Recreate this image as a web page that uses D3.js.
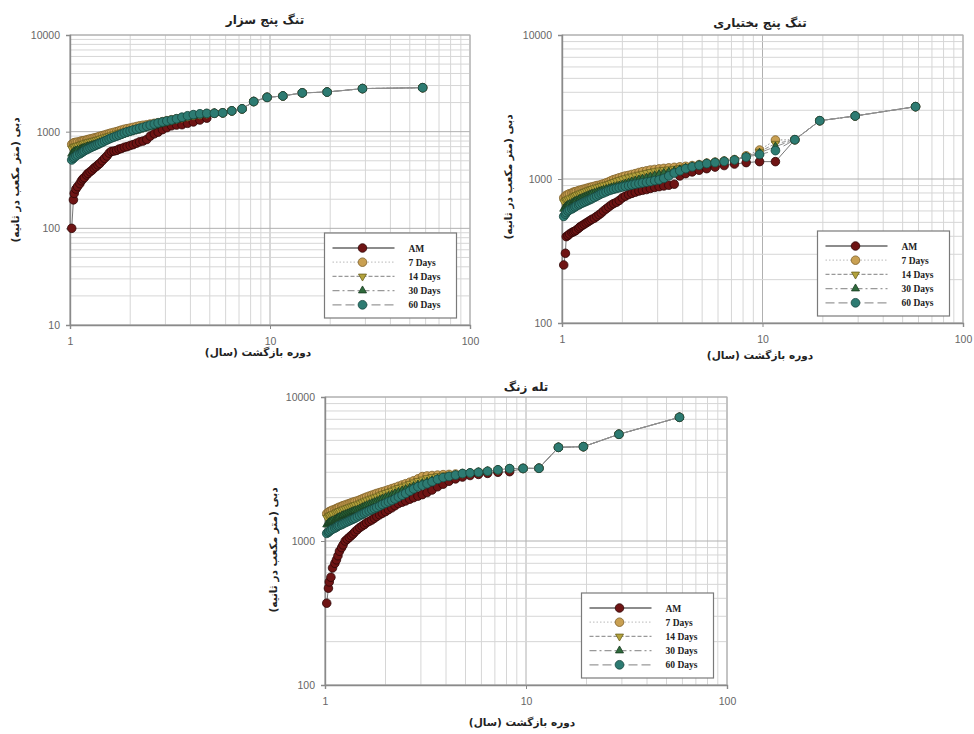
<!DOCTYPE html>
<html lang="fa">
<head>
<meta charset="utf-8">
<title>Flow frequency curves</title>
<script src="https://cdn.jsdelivr.net/npm/d3@7"></script>
<style>
  body { margin: 0; background: #fff; }
  .tick text { font-family: "Liberation Sans", Arial, sans-serif; font-size: 10.5px; fill: #666; }
  .fa { font-family: "DejaVu Sans", sans-serif; font-weight: bold; fill: #222; }
  .leg { font-family: "Liberation Serif", "Times New Roman", serif; font-weight: bold; font-size: 9.5px; fill: #222; }
</style>
</head>
<body>
<svg id="chart" width="974" height="734"></svg>
<script>
// return period (years), shared by the three stations
var returnPeriod = [1.02,1.04,1.05,1.07,1.09,1.12,1.14,1.16,1.18,1.21,
  1.23,1.26,1.29,1.32,1.35,1.38,1.41,1.45,1.49,1.53,
  1.57,1.61,1.66,1.71,1.76,1.81,1.87,1.93,2.00,2.07,
  2.15,2.23,2.32,2.42,2.52,2.64,2.76,2.90,3.05,3.22,
  3.41,3.63,3.87,4.14,4.46,4.83,5.27,5.80,6.44,7.25,
  8.29,9.67,11.6,14.5,19.3,29.0,58.0];

var seriesNames = ["AM", "7 Days", "14 Days", "30 Days", "60 Days"];
var xTickLabels = [1, 10, 100];

// ---- تنگ پنج سزار ----
var sezarTail = [1550,1565,1640,1720,2050,2265,2340,2520,2570,2790,2850];
var sezarAM = [100,197,230,255,270,290,310,325,335,356,
  370,385,400,420,435,453,470,500,530,560,
  600,625,630,640,660,670,690,700,720,735,
  760,785,800,830,900,950,990,1050,1100,1150,
  1170,1180,1220,1260,1320,1380];
var sezar7 = [740,760,770,775,780,790,800,805,810,820,
  830,840,850,860,870,880,895,910,925,940,
  955,970,985,1000,1020,1040,1060,1075,1090,1110,
  1130,1150,1165,1180,1200,1220,1240,1270,1300,1330,
  1360,1400,1440,1480,1510,1540];
var sezar14 = [670,690,700,710,720,730,740,750,760,770,
  780,790,800,810,820,830,845,860,875,890,
  905,920,940,955,975,990,1010,1030,1050,1070,
  1090,1110,1130,1150,1170,1195,1220,1250,1280,1310,
  1350,1390,1430,1470,1500,1530];
var sezar30 = [590,610,625,635,645,655,665,675,685,695,
  705,715,725,735,745,760,775,790,805,820,
  835,850,870,885,900,920,940,960,980,1000,
  1020,1045,1070,1095,1120,1150,1180,1210,1245,1280,
  1320,1360,1410,1450,1490,1530];
var sezar60 = [510,530,545,560,575,590,605,620,635,650,
  665,680,695,710,725,740,755,775,800,820,
  840,860,880,900,920,945,970,995,1015,1040,
  1060,1085,1110,1140,1170,1200,1230,1260,1290,1320,
  1360,1410,1460,1500,1530,1545];
var sezarTicksY = [10, 100, 1000, 10000];

// ---- تنگ پنج بختیاری ----
var bakhtTail = [1875,2540,2740,3180];
var bakhtAM = [253,305,398,405,415,425,430,435,442,455,
  465,475,485,495,505,515,525,535,550,565,
  580,600,620,640,660,675,690,710,740,760,
  780,795,810,825,835,845,860,875,885,895,
  905,920,1050,1090,1120,1150,1180,1210,1240,1270,
  1300,1320,1320];
var bakht7 = [740,760,770,780,790,800,810,815,820,830,
  835,845,850,860,865,875,880,890,900,905,
  915,925,940,955,975,990,1005,1020,1035,1050,
  1060,1075,1090,1110,1125,1140,1155,1165,1175,1185,
  1195,1205,1215,1225,1240,1260,1290,1310,1335,1365,
  1450,1590,1865];
var bakht14 = [690,705,715,725,735,745,755,765,775,785,
  795,805,815,825,835,845,855,865,875,885,
  895,905,915,925,940,955,970,985,1000,1015,
  1030,1045,1060,1075,1090,1105,1120,1135,1150,1160,
  1170,1180,1195,1210,1230,1255,1285,1305,1330,1360,
  1440,1550,1760];
var bakht30 = [620,640,650,660,670,680,690,700,710,720,
  730,740,750,760,770,780,790,800,810,820,
  830,840,850,860,870,880,890,900,915,930,
  945,960,975,990,1005,1020,1040,1060,1080,1100,
  1120,1140,1165,1195,1225,1250,1285,1305,1330,1360,
  1430,1520,1680];
var bakht60 = [550,570,585,600,610,620,630,640,650,660,
  670,680,690,700,710,720,730,745,760,775,
  790,800,815,830,840,850,860,870,880,890,
  900,910,920,930,940,950,960,975,985,1010,
  1050,1100,1140,1180,1215,1245,1280,1300,1325,1355,
  1420,1480,1575];
var bakhtTicksY = [100, 1000, 10000];

// ---- تله زنگ ----
var zangTail = [3190,3200,4470,4520,5510,7230];
var zangAM = [370,470,520,560,650,700,740,790,850,900,
  940,1000,1030,1060,1090,1120,1160,1200,1240,1270,
  1300,1340,1370,1400,1440,1480,1520,1560,1600,1650,
  1700,1760,1820,1860,1900,1950,2000,2050,2100,2170,
  2260,2380,2480,2600,2700,2780,2850,2900,2950,3000,
  3030];
var zang7 = [1550,1580,1600,1620,1640,1660,1680,1700,1720,1740,
  1760,1780,1800,1820,1840,1860,1880,1900,1930,1960,
  1990,2020,2050,2080,2110,2140,2170,2200,2230,2270,
  2310,2350,2400,2450,2500,2560,2620,2700,2800,2830,
  2850,2870,2890,2900,2920,2940,2970,3000,3050,3120,
  3180];
var zang14 = [1450,1480,1500,1520,1540,1560,1580,1600,1620,1640,
  1660,1680,1700,1720,1740,1760,1780,1800,1830,1860,
  1890,1920,1950,1980,2010,2040,2080,2120,2160,2200,
  2240,2290,2340,2390,2440,2500,2560,2620,2680,2740,
  2790,2830,2860,2880,2910,2940,2970,3000,3050,3120,
  3180];
var zang30 = [1300,1330,1350,1370,1390,1410,1430,1450,1470,1490,
  1510,1530,1550,1570,1590,1610,1630,1650,1680,1710,
  1740,1770,1800,1830,1860,1890,1930,1970,2010,2050,
  2090,2140,2190,2240,2290,2340,2400,2460,2520,2580,
  2640,2700,2760,2810,2870,2940,2970,3000,3050,3120,
  3180];
var zang60 = [1130,1150,1170,1190,1210,1230,1250,1270,1285,1300,
  1320,1340,1360,1380,1400,1420,1440,1470,1500,1530,
  1560,1590,1620,1650,1680,1710,1750,1790,1830,1870,
  1910,1960,2020,2080,2140,2220,2300,2380,2440,2500,
  2580,2680,2760,2810,2870,2940,2970,3000,3050,3120,
  3180];
var zangTicksY = [100, 1000, 10000];

// marker / line styles per series (AM, 7, 14, 30, 60)
var fills   = ["#6e1414", "#c9a052", "#b3a23c", "#2f6a3c", "#2d7b72"];
var strokes = ["#2e0606", "#7d5f28", "#6a5f1e", "#173a20", "#17463f"];
var shapes  = [d3.symbolCircle, d3.symbolCircle, d3.symbolTriangle, d3.symbolTriangle, d3.symbolCircle];
var sizes   = [58, 58, 28, 28, 60];
var flips   = [0, 0, 180, 0, 0];
var dashes  = [null, "1.5,2", "4,2", "7,3,2,3", "9,4"];
var lineCol = ["#666", "#c8c8c8", "#999", "#999", "#999"];

var svg = d3.select("#chart");

var panels = [
  { title: "تنگ پنج سزار", left: 70, right: 470, top: 35, bottom: 325, yDomain: [10, 10000],
    yTicks: sezarTicksY, titleX: 265, titleY: 24, xLabX: 258, xLabY: 356, yLabX: 15, yLabY: 180,
    series: [sezarAM.concat(sezarTail), sezar7.concat(sezarTail), sezar14.concat(sezarTail),
             sezar30.concat(sezarTail), sezar60.concat(sezarTail)] },
  { title: "تنگ پنج بختیاری", left: 562, right: 963, top: 35, bottom: 323, yDomain: [100, 10000],
    yTicks: bakhtTicksY, titleX: 760, titleY: 27, xLabX: 760, xLabY: 359, yLabX: 508, yLabY: 177,
    series: [bakhtAM.concat(bakhtTail), bakht7.concat(bakhtTail), bakht14.concat(bakhtTail),
             bakht30.concat(bakhtTail), bakht60.concat(bakhtTail)] },
  { title: "تله زنگ", left: 325, right: 727, top: 397, bottom: 685, yDomain: [100, 10000],
    yTicks: zangTicksY, titleX: 526, titleY: 391, xLabX: 522, xLabY: 726, yLabX: 273, yLabY: 550,
    series: [zangAM.concat(zangTail), zang7.concat(zangTail), zang14.concat(zangTail),
             zang30.concat(zangTail), zang60.concat(zangTail)] }
];

function isMajor(v) {
  var l = Math.log10(v);
  return Math.abs(l - Math.round(l)) < 1e-9;
}

function drawPanel(p) {
  var g = svg.append("g");
  var x = d3.scaleLog().domain([1, 100]).range([p.left, p.right]);
  var y = d3.scaleLog().domain(p.yDomain).range([p.bottom, p.top]);

  // grid
  var gx = x.ticks(), gy = y.ticks();
  g.selectAll(".gx").data(gx).enter().append("line")
    .attr("x1", function(d) { return x(d); }).attr("x2", function(d) { return x(d); })
    .attr("y1", p.top).attr("y2", p.bottom)
    .attr("stroke", function(d) { return isMajor(d) ? "#b0b0b0" : "#d6d6d6"; })
    .attr("stroke-width", 1);
  g.selectAll(".gy").data(gy).enter().append("line")
    .attr("y1", function(d) { return y(d); }).attr("y2", function(d) { return y(d); })
    .attr("x1", p.left).attr("x2", p.right)
    .attr("stroke", function(d) { return isMajor(d) ? "#b0b0b0" : "#d6d6d6"; })
    .attr("stroke-width", 1);
  g.append("rect").attr("x", p.left).attr("y", p.top)
    .attr("width", p.right - p.left).attr("height", p.bottom - p.top)
    .attr("fill", "none").attr("stroke", "#b0b0b0");

  // axes
  var ax = g.append("g").attr("transform", "translate(0," + p.bottom + ")")
    .call(d3.axisBottom(x).tickValues(xTickLabels).tickFormat(d3.format("d")).tickSize(4).tickPadding(9));
  var ay = g.append("g").attr("transform", "translate(" + p.left + ",0)")
    .call(d3.axisLeft(y).tickValues(p.yTicks).tickFormat(d3.format("d")).tickSize(4).tickPadding(6));
  [ax, ay].forEach(function(a) {
    a.select(".domain").attr("stroke", "#8a8a8a").attr("stroke-width", 1.4);
    a.selectAll(".tick line").attr("stroke", "#8a8a8a");
  });

  // series
  var line = d3.line()
    .x(function(d) { return x(d[0]); })
    .y(function(d) { return y(d[1]); });

  p.series.forEach(function(vals, si) {
    var pts = vals.map(function(v, i) { return [returnPeriod[i], v]; });
    g.append("path").datum(pts).attr("d", line)
      .attr("fill", "none").attr("stroke", si === 0 ? "#777" : "#8f8f8f")
      .attr("stroke-width", 1)
      .attr("stroke-dasharray", dashes[si]);
    g.selectAll(".m" + si).data(pts).enter().append("path")
      .attr("d", d3.symbol().type(shapes[si]).size(sizes[si]))
      .attr("transform", function(d) {
        return "translate(" + x(d[0]) + "," + y(d[1]) + ") rotate(" + flips[si] + ")";
      })
      .attr("fill", fills[si]).attr("stroke", strokes[si]).attr("stroke-width", 0.8);
  });

  // legend
  var lw = 132, lh = 85;
  var lx = p.right - 13.5 - lw, ly = p.bottom - 7 - lh;
  var lg = g.append("g").attr("transform", "translate(" + lx + "," + ly + ")");
  lg.append("rect").attr("width", lw).attr("height", lh)
    .attr("fill", "#fff").attr("stroke", "#7a7a7a").attr("stroke-width", 1.2);
  seriesNames.forEach(function(name, si) {
    var ry = 15 + si * 14.2;
    lg.append("line").attr("x1", 8).attr("x2", 70).attr("y1", ry).attr("y2", ry)
      .attr("stroke", lineCol[si]).attr("stroke-width", si === 0 ? 1.5 : 1.2)
      .attr("stroke-dasharray", dashes[si]);
    lg.append("path")
      .attr("d", d3.symbol().type(shapes[si]).size(sizes[si]))
      .attr("transform", "translate(38," + ry + ") rotate(" + flips[si] + ")")
      .attr("fill", fills[si]).attr("stroke", strokes[si]).attr("stroke-width", 0.8);
    lg.append("text").attr("class", "leg").attr("x", 84).attr("y", ry + 3.5).text(name);
  });

  // titles
  g.append("text").attr("class", "fa").attr("x", p.titleX).attr("y", p.titleY)
    .attr("text-anchor", "middle").attr("font-size", 12).attr("direction", "rtl")
    .text(p.title);
  g.append("text").attr("class", "fa").attr("x", p.xLabX).attr("y", p.xLabY)
    .attr("text-anchor", "middle").attr("font-size", 10.5).attr("direction", "rtl")
    .text("دوره بازگشت (سال)");
  g.append("text").attr("class", "fa")
    .attr("transform", "translate(" + (p.yLabX + 4) + "," + p.yLabY + ") rotate(-90)")
    .attr("text-anchor", "middle").attr("font-size", 10.5).attr("direction", "rtl")
    .text("دبی (متر مکعب در ثانیه)");
}

panels.forEach(drawPanel);
</script>
</body>
</html>
